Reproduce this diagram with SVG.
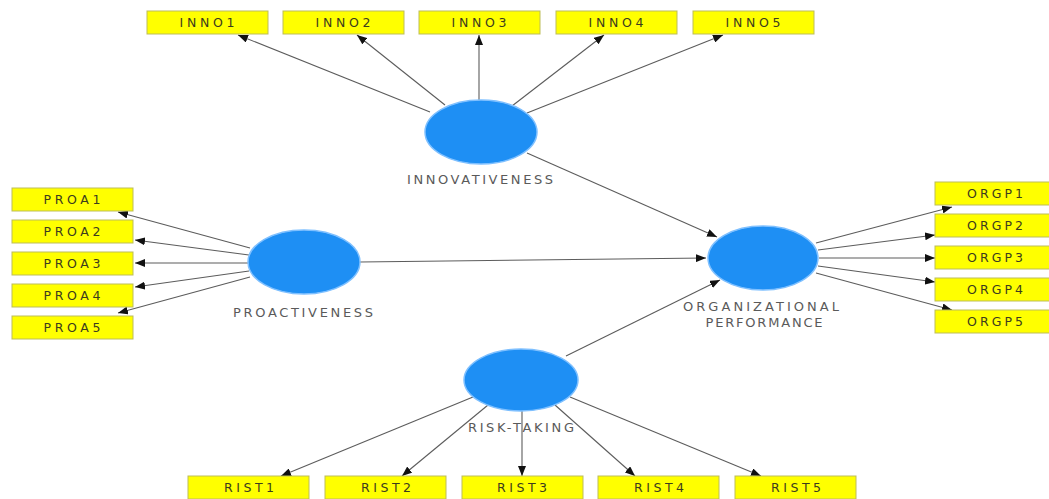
<svg xmlns="http://www.w3.org/2000/svg" width="1049" height="499" viewBox="0 0 1049 499">
<defs>
<style>
.box{fill:#ffff00;stroke:#bdbd5a;stroke-width:1}
.bt{font-family:"DejaVu Sans",sans-serif;font-size:12.5px;fill:#3c3c1e;text-anchor:middle}
.lv{fill:#1e8ff4;stroke:#7fc0ff;stroke-width:1.5}
.lt{font-family:"DejaVu Sans",sans-serif;font-size:13px;fill:#5a5a5a;text-anchor:middle}
.c{stroke:#5c5c5c;stroke-width:1.1;fill:none;marker-end:url(#ah)}
</style>
<marker id="ah" markerUnits="userSpaceOnUse" markerWidth="10" markerHeight="8" refX="10" refY="4" orient="auto">
<path d="M0,0 L10,4 L0,8 z" fill="#111"/>
</marker>
</defs>
<rect width="1049" height="499" fill="#ffffff"/>
<g id="connectors">
<line class="c" x1="430" y1="112" x2="238" y2="35"/>
<line class="c" x1="445" y1="105" x2="357" y2="35"/>
<line class="c" x1="479" y1="100" x2="479" y2="35"/>
<line class="c" x1="512" y1="106" x2="604" y2="35"/>
<line class="c" x1="527" y1="113" x2="723" y2="35"/>
<line class="c" x1="527" y1="153" x2="717" y2="237"/>
<line class="c" x1="250" y1="248" x2="118" y2="212"/>
<line class="c" x1="249" y1="255" x2="135" y2="240"/>
<line class="c" x1="248" y1="263" x2="135" y2="263"/>
<line class="c" x1="249" y1="271" x2="135" y2="287"/>
<line class="c" x1="250" y1="277" x2="118" y2="313"/>
<line class="c" x1="360" y1="262" x2="706" y2="258"/>
<line class="c" x1="816" y1="243" x2="952" y2="207"/>
<line class="c" x1="818" y1="250" x2="935" y2="235"/>
<line class="c" x1="819" y1="258" x2="935" y2="258"/>
<line class="c" x1="818" y1="266" x2="935" y2="282"/>
<line class="c" x1="816" y1="273" x2="952" y2="310"/>
<line class="c" x1="473" y1="397" x2="281" y2="476"/>
<line class="c" x1="488" y1="405" x2="402" y2="476"/>
<line class="c" x1="522" y1="410" x2="522" y2="476"/>
<line class="c" x1="555" y1="405" x2="635" y2="476"/>
<line class="c" x1="570" y1="397" x2="761" y2="476"/>
<line class="c" x1="566" y1="356" x2="720" y2="280"/>
</g>
<g id="INNOVATIVENESS">
<ellipse class="lv" cx="481" cy="132" rx="56" ry="32"/>
<text class="lt" x="480" y="184" textLength="146" lengthAdjust="spacing">INNOVATIVENESS</text>
</g>
<g id="PROACTIVENESS">
<ellipse class="lv" cx="304" cy="262" rx="56" ry="32"/>
<text class="lt" x="303" y="317" textLength="140" lengthAdjust="spacing">PROACTIVENESS</text>
</g>
<g id="ORGANIZATIONAL_PERFORMANCE">
<ellipse class="lv" cx="763" cy="258" rx="55" ry="32"/>
<text class="lt" x="761" y="311" textLength="156" lengthAdjust="spacing">ORGANIZATIONAL</text>
<text class="lt" x="764" y="327" textLength="117" lengthAdjust="spacing">PERFORMANCE</text>
</g>
<g id="RISK-TAKING">
<ellipse class="lv" cx="521" cy="380" rx="57" ry="31"/>
<text class="lt" x="521" y="432" textLength="106" lengthAdjust="spacing">RISK-TAKING</text>
</g>
<g id="INNO1"><rect class="box" x="147" y="11" width="121" height="23"/><text class="bt" x="207" y="27" textLength="55" lengthAdjust="spacing">INNO1</text></g>
<g id="INNO2"><rect class="box" x="283" y="11" width="121" height="23"/><text class="bt" x="343" y="27" textLength="55" lengthAdjust="spacing">INNO2</text></g>
<g id="INNO3"><rect class="box" x="419" y="11" width="121" height="23"/><text class="bt" x="479" y="27" textLength="55" lengthAdjust="spacing">INNO3</text></g>
<g id="INNO4"><rect class="box" x="556" y="11" width="121" height="23"/><text class="bt" x="616" y="27" textLength="55" lengthAdjust="spacing">INNO4</text></g>
<g id="INNO5"><rect class="box" x="693" y="11" width="121" height="23"/><text class="bt" x="753" y="27" textLength="55" lengthAdjust="spacing">INNO5</text></g>
<g id="PROA1"><rect class="box" x="12" y="188" width="121" height="23"/><text class="bt" x="72" y="204" textLength="57" lengthAdjust="spacing">PROA1</text></g>
<g id="PROA2"><rect class="box" x="12" y="220" width="121" height="23"/><text class="bt" x="72" y="236" textLength="57" lengthAdjust="spacing">PROA2</text></g>
<g id="PROA3"><rect class="box" x="12" y="252" width="121" height="23"/><text class="bt" x="72" y="268" textLength="57" lengthAdjust="spacing">PROA3</text></g>
<g id="PROA4"><rect class="box" x="12" y="284" width="121" height="23"/><text class="bt" x="72" y="300" textLength="57" lengthAdjust="spacing">PROA4</text></g>
<g id="PROA5"><rect class="box" x="12" y="316" width="121" height="23"/><text class="bt" x="72" y="332" textLength="57" lengthAdjust="spacing">PROA5</text></g>
<g id="ORGP1"><rect class="box" x="935" y="182" width="121" height="23"/><text class="bt" x="995" y="198" textLength="56" lengthAdjust="spacing">ORGP1</text></g>
<g id="ORGP2"><rect class="box" x="935" y="214" width="121" height="23"/><text class="bt" x="995" y="230" textLength="56" lengthAdjust="spacing">ORGP2</text></g>
<g id="ORGP3"><rect class="box" x="935" y="246" width="121" height="23"/><text class="bt" x="995" y="262" textLength="56" lengthAdjust="spacing">ORGP3</text></g>
<g id="ORGP4"><rect class="box" x="935" y="278" width="121" height="23"/><text class="bt" x="995" y="294" textLength="56" lengthAdjust="spacing">ORGP4</text></g>
<g id="ORGP5"><rect class="box" x="935" y="310" width="121" height="23"/><text class="bt" x="995" y="326" textLength="56" lengthAdjust="spacing">ORGP5</text></g>
<g id="RIST1"><rect class="box" x="188" y="476" width="121" height="23"/><text class="bt" x="249" y="492" textLength="50" lengthAdjust="spacing">RIST1</text></g>
<g id="RIST2"><rect class="box" x="325" y="476" width="121" height="23"/><text class="bt" x="386" y="492" textLength="50" lengthAdjust="spacing">RIST2</text></g>
<g id="RIST3"><rect class="box" x="462" y="476" width="121" height="23"/><text class="bt" x="522" y="492" textLength="50" lengthAdjust="spacing">RIST3</text></g>
<g id="RIST4"><rect class="box" x="598" y="476" width="121" height="23"/><text class="bt" x="659" y="492" textLength="50" lengthAdjust="spacing">RIST4</text></g>
<g id="RIST5"><rect class="box" x="735" y="476" width="121" height="23"/><text class="bt" x="796" y="492" textLength="50" lengthAdjust="spacing">RIST5</text></g>
</svg>
